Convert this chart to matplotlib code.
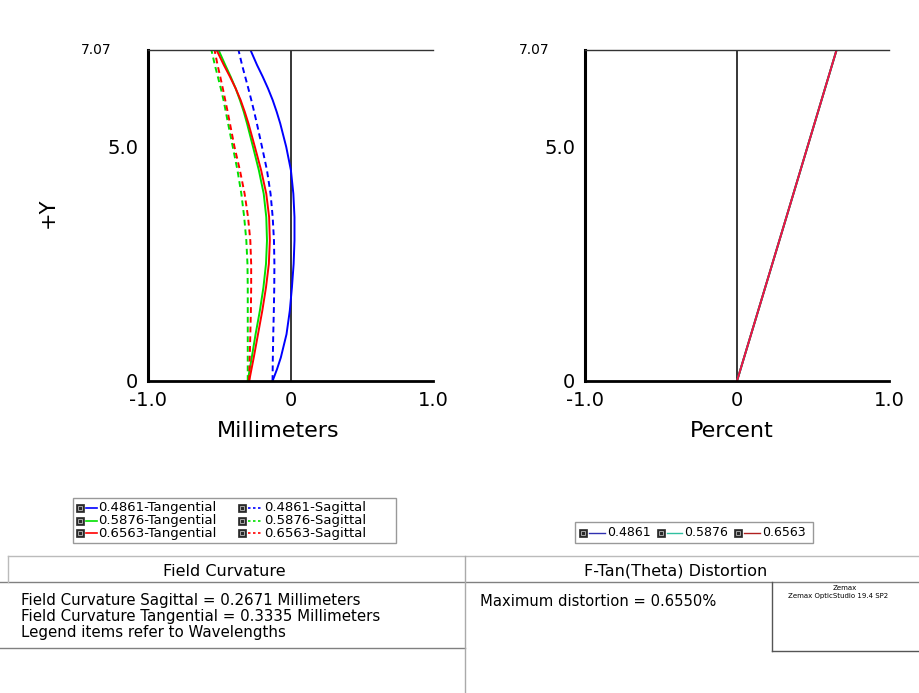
import matplotlib
matplotlib.use("Agg")
import matplotlib.pyplot as plt
from matplotlib.lines import Line2D
from matplotlib.patches import Rectangle

plt.rcParams['font.family'] = ['DejaVu Sans']

# ---------------- data ----------------
field_y = [0, 0.25, 0.5, 1, 1.5, 2, 2.5, 3, 3.5, 4, 4.5, 5, 5.5, 5.75, 6, 6.25, 6.5, 6.75, 7.07]
# Field curvature (mm)
b_tan = [-0.126, -0.095, -0.068, -0.028, -0.005, 0.010, 0.022, 0.028, 0.028, 0.020, 0.003, -0.030, -0.072,
         -0.097, -0.125, -0.158, -0.195, -0.235, -0.281]
b_sag = [-0.126, -0.125, -0.124, -0.121, -0.117, -0.114, -0.113, -0.116, -0.125, -0.140, -0.165, -0.200, -0.236,
         -0.255, -0.275, -0.296, -0.318, -0.340, -0.365]
g_tan = [-0.300, -0.286, -0.272, -0.245, -0.215, -0.190, -0.172, -0.165, -0.170, -0.188, -0.222, -0.263, -0.305,
         -0.328, -0.355, -0.385, -0.420, -0.458, -0.505]
g_sag = [-0.300, -0.300, -0.300, -0.300, -0.300, -0.300, -0.302, -0.310, -0.325, -0.345, -0.372, -0.405, -0.438,
         -0.454, -0.470, -0.489, -0.510, -0.531, -0.555]
r_tan = [-0.290, -0.274, -0.258, -0.228, -0.198, -0.172, -0.152, -0.145, -0.150, -0.170, -0.206, -0.250, -0.295,
         -0.321, -0.350, -0.385, -0.425, -0.468, -0.519]
r_sag = [-0.290, -0.288, -0.286, -0.282, -0.278, -0.276, -0.276, -0.282, -0.298, -0.322, -0.355, -0.393, -0.425,
         -0.441, -0.458, -0.475, -0.493, -0.512, -0.533]

dist_y = [0, 3.5, 7.07]
dist_b = [0, 0.325, 0.655]
dist_g = [0, 0.325, 0.655]
dist_r = [0, 0.325, 0.655]

wavelengths = ["0.4861", "0.5876", "0.6563"]
xticks = [-1.0, 0, 1.0]
xticklabels = ["-1.0", "0", "1.0"]
ymax = 7.07

W, H = 919, 693
fig = plt.figure(figsize=(W / 100, H / 100), dpi=100)


def fx(x):
    return x / W


def fy(y):
    return 1 - y / H


BLUE, GREEN, RED = "#0000ff", "#00e000", "#ff0000"


def style_axes(ax):
    ax.set_xlim(-1, 1)
    ax.set_ylim(0, ymax)
    ax.spines["right"].set_visible(False)
    ax.spines["left"].set_linewidth(2.2)
    ax.spines["bottom"].set_linewidth(2.0)
    ax.spines["top"].set_linewidth(1.0)
    ax.spines["top"].set_color("#333333")
    ax.tick_params(length=0, labelsize=14, pad=7)
    ax.set_xticks(xticks)
    ax.set_xticklabels(xticklabels)
    ax.set_yticks([0, 5.0])
    ax.set_yticklabels(["0", "5.0"])
    ax.axvline(0, color="black", lw=1.1, zorder=1)


ax1 = fig.add_axes([fx(148), fy(381), fx(433 - 148), (381 - 50) / H])
ax2 = fig.add_axes([fx(585), fy(381), fx(889 - 585), (381 - 50) / H])
for ax in (ax1, ax2):
    style_axes(ax)

lw = 1.4
dash = (0, (3, 2))
ax1.plot(b_tan, field_y, color=BLUE, lw=lw)
ax1.plot(b_sag, field_y, color=BLUE, lw=lw, linestyle=dash)
ax1.plot(g_tan, field_y, color=GREEN, lw=lw)
ax1.plot(g_sag, field_y, color=GREEN, lw=lw, linestyle=dash)
ax1.plot(r_tan, field_y, color=RED, lw=lw)
ax1.plot(r_sag, field_y, color=RED, lw=lw, linestyle=dash)

ax2.plot(dist_b, dist_y, color=BLUE, lw=lw)
ax2.plot(dist_g, dist_y, color=GREEN, lw=lw)
ax2.plot(dist_r, dist_y, color="#f0104a", lw=lw)

# small 7.07 labels
fig.text(fx(112), fy(50), "7.07", ha="right", va="center", fontsize=10)
fig.text(fx(549), fy(50), "7.07", ha="right", va="center", fontsize=10)

# axis labels
fig.text(fx(278), fy(431), "Millimeters", ha="center", va="center", fontsize=16)
fig.text(fx(732), fy(431), "Percent", ha="center", va="center", fontsize=16)
fig.text(fx(48), fy(213), "+Y", ha="center", va="center", fontsize=15, rotation=90)

# ---------------- legends ----------------
def icon(x, y):
    fig.patches.append(Rectangle((fx(x), fy(y + 4)), fx(8), 8 / H, transform=fig.transFigure,
                                 facecolor="#2a2a2a", edgecolor="#2a2a2a", lw=0.5))
    fig.patches.append(Rectangle((fx(x + 2), fy(y + 2)), fx(4), 4 / H, transform=fig.transFigure,
                                 facecolor="none", edgecolor="#bbbbbb", lw=0.6))


def sample(x0, x1, y, color, ls="-", lw_=1.2):
    fig.lines.append(Line2D([fx(x0), fx(x1)], [fy(y), fy(y)], transform=fig.transFigure,
                            color=color, lw=lw_, linestyle=ls))


# legend 1
fig.patches.append(Rectangle((fx(73), fy(543)), fx(396 - 73), (543 - 498) / H, transform=fig.transFigure,
                             facecolor="none", edgecolor="#999999", lw=1))
rows = [508, 520.5, 533]
cols = [BLUE, GREEN, RED]
for i, (yy, c) in enumerate(zip(rows, cols)):
    icon(76, yy)
    sample(86, 97, yy, c)
    fig.text(fx(98), fy(yy), wavelengths[i] + "-Tangential", ha="left", va="center", fontsize=9.5)
    icon(238, yy)
    sample(248, 263, yy, c, ls=(0, (1.5, 1.5)))
    fig.text(fx(264), fy(yy), wavelengths[i] + "-Sagittal", ha="left", va="center", fontsize=9.5)

# legend 2
fig.patches.append(Rectangle((fx(575), fy(543)), fx(813 - 575), (543 - 522) / H, transform=fig.transFigure,
                             facecolor="none", edgecolor="#999999", lw=1))
leg2 = [(579, 589, 605, 607, "#3030b0"), (657, 667, 682, 684, "#30c0a0"), (734, 744, 760, 762, "#b02020")]
for (ix, l0, l1, tx, c), wl in zip(leg2, wavelengths):
    icon(ix, 533)
    sample(l0, l1, 533, c, lw_=1.0)
    fig.text(fx(tx), fy(533), wl, ha="left", va="center", fontsize=9)

# ---------------- bottom info panel ----------------
GRAY = "#808080"


def hline(x0, x1, y, color=GRAY, lw_=1.0):
    fig.lines.append(Line2D([fx(x0), fx(x1)], [fy(y), fy(y)], transform=fig.transFigure, color=color, lw=lw_))


def vline(x, y0, y1, color=GRAY, lw_=1.0):
    fig.lines.append(Line2D([fx(x), fx(x)], [fy(y0), fy(y1)], transform=fig.transFigure, color=color, lw=lw_))


hline(8, 919, 556, color="#bbbbbb")
hline(0, 919, 582)
hline(0, 465, 648)
vline(8, 556, 582, color="#bbbbbb")
vline(465, 556, 693, color="#aaaaaa")
# Zemax box
vline(772, 582, 651, color="#555555")
hline(772, 919, 651, color="#555555")

fig.text(fx(224), fy(571), "Field Curvature", ha="center", va="center", fontsize=11.5)
fig.text(fx(676), fy(571), "F-Tan(Theta) Distortion", ha="center", va="center", fontsize=11.5)

fig.text(fx(21), fy(601), "Field Curvature Sagittal = 0.2671 Millimeters", ha="left", va="center", fontsize=10.8)
fig.text(fx(21), fy(617), "Field Curvature Tangential = 0.3335 Millimeters", ha="left", va="center", fontsize=10.8)
fig.text(fx(21), fy(633), "Legend items refer to Wavelengths", ha="left", va="center", fontsize=10.8)
fig.text(fx(480), fy(601), "Maximum distortion = 0.6550%", ha="left", va="center", fontsize=10.6)

fig.text(fx(845), fy(588), "Zemax", ha="center", va="center", fontsize=5)
fig.text(fx(838), fy(596), "Zemax OpticStudio 19.4 SP2", ha="center", va="center", fontsize=5)

fig.savefig("out.png", dpi=100, facecolor="white")
